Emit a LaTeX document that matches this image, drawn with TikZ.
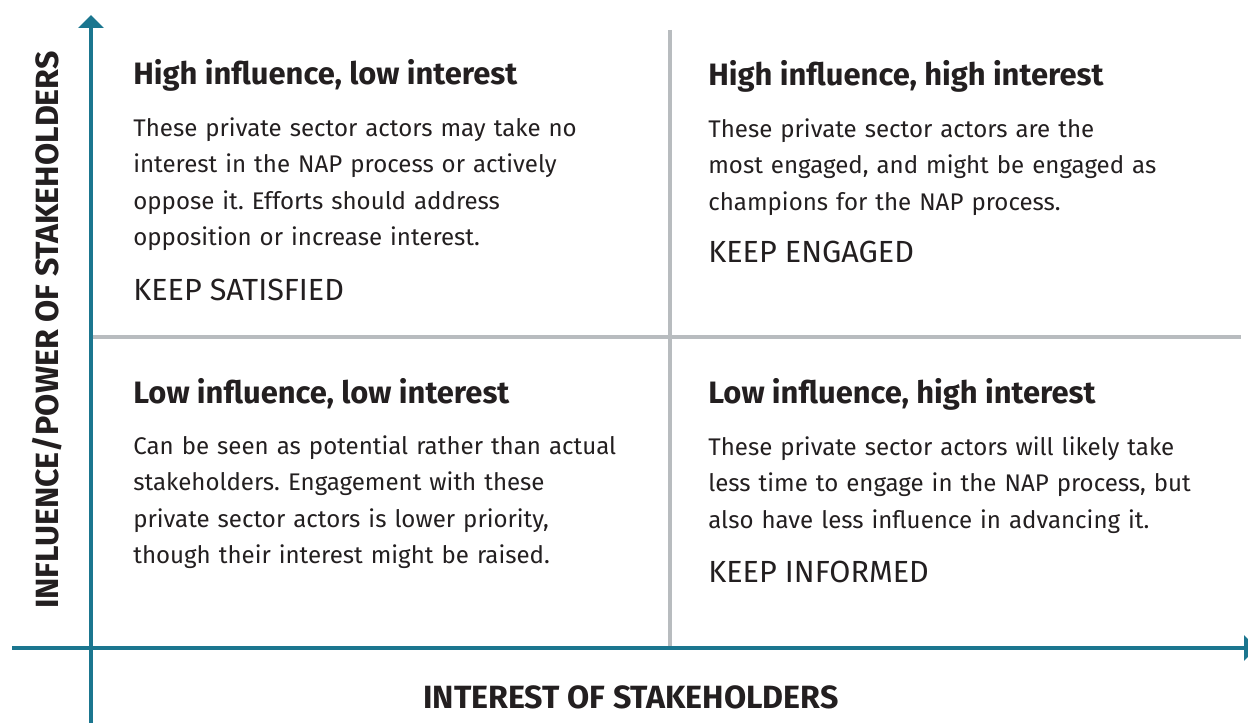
\documentclass[tikz,border=0pt]{standalone}
\usepackage{fontspec}
\setmainfont{Fira Sans}
\usepackage{tikz}
\usetikzlibrary{arrows.meta, positioning}
\definecolor{axisteal}{RGB}{27,118,143}
\definecolor{gridgray}{RGB}{184,188,191}
\definecolor{inkdark}{RGB}{35,31,32}
\frenchspacing
\tikzstyle{heading} = [anchor=base west, inner sep=0pt, text=inkdark, font=\fontsize{17.6}{20}\selectfont\bfseries]
\tikzstyle{bodytext} = [anchor=base west, inner sep=0pt, text=inkdark, text width=11cm, align=left, font=\fontsize{13.7}{20.8}\selectfont]
\tikzstyle{keeplabel} = [anchor=base west, inner sep=0pt, text=inkdark, font=\fontsize{17.4}{20}\selectfont]
\tikzstyle{axislabel} = [inner sep=0pt, text=inkdark, font=\fontsize{18.3}{21}\selectfont\bfseries]
\tikzstyle{axis} = [line width=2.3pt, draw=axisteal, -{Triangle[width=0.5cm, length=0.26cm]}]
\tikzstyle{divider} = [line width=2.2pt, draw=gridgray]

\begin{document}
\begin{tikzpicture}[x=0.02cm, y=-0.02cm]
\useasboundingbox (0,0) rectangle (1248,723);
% axes and dividers
\coordinate (origin) at (91,648);
\coordinate (ybottom) at (91,723);
\coordinate (ytip) at (91,15);
\coordinate (xstart) at (12,648);
\coordinate (xtip) at (1257,648);
\coordinate (vtop) at (670,30);
\coordinate (vbottom) at (670,648);
\coordinate (hleft) at (91,337);
\coordinate (hright) at (1241,337);
\draw [divider] (vtop) -- (vbottom);
\draw [divider] (hleft) -- (hright);
\draw [axis] (ybottom) -- (ytip);
\draw [axis] (xstart) -- (xtip);
% top left
\node (hlHead) [heading] at (133,85) {High influence, low interest};
\node (hlBody) [bodytext] at (133,136) {These private sector actors may take no\\ interest in the NAP process or actively\\ oppose it. Efforts should address\\ opposition or increase interest.};
\node (hlKeep) [keeplabel] at (133,300) {KEEP SATISFIED};
% top right
\node (hhHead) [heading] at (708,86) {High influence, high interest};
\node (hhBody) [bodytext] at (708,137) {These private sector actors are the\\ most engaged, and might be engaged as\\ champions for the NAP process.};
\node (hhKeep) [keeplabel] at (708,262) {KEEP ENGAGED};
% bottom left
\node (llHead) [heading] at (133,403) {Low influence, low interest};
\node (llBody) [bodytext] at (133,454) {Can be seen as potential rather than actual\\ stakeholders. Engagement with these\\ private sector actors is lower priority,\\ though their interest might be raised.};
% bottom right
\node (lhHead) [heading] at (708,403) {Low influence, high interest};
\node (lhBody) [bodytext] at (708,455) {These private sector actors will likely take\\ less time to engage in the NAP process, but\\ also have less influence in advancing it.};
\node (lhKeep) [keeplabel] at (708,582) {KEEP INFORMED};
% axis labels
\node (yLabel) [axislabel, rotate=90] at (47,330) {INFLUENCE/POWER OF STAKEHOLDERS};
\node (xLabel) [axislabel] at (631,697) {INTEREST OF STAKEHOLDERS};
\end{tikzpicture}
\end{document}
